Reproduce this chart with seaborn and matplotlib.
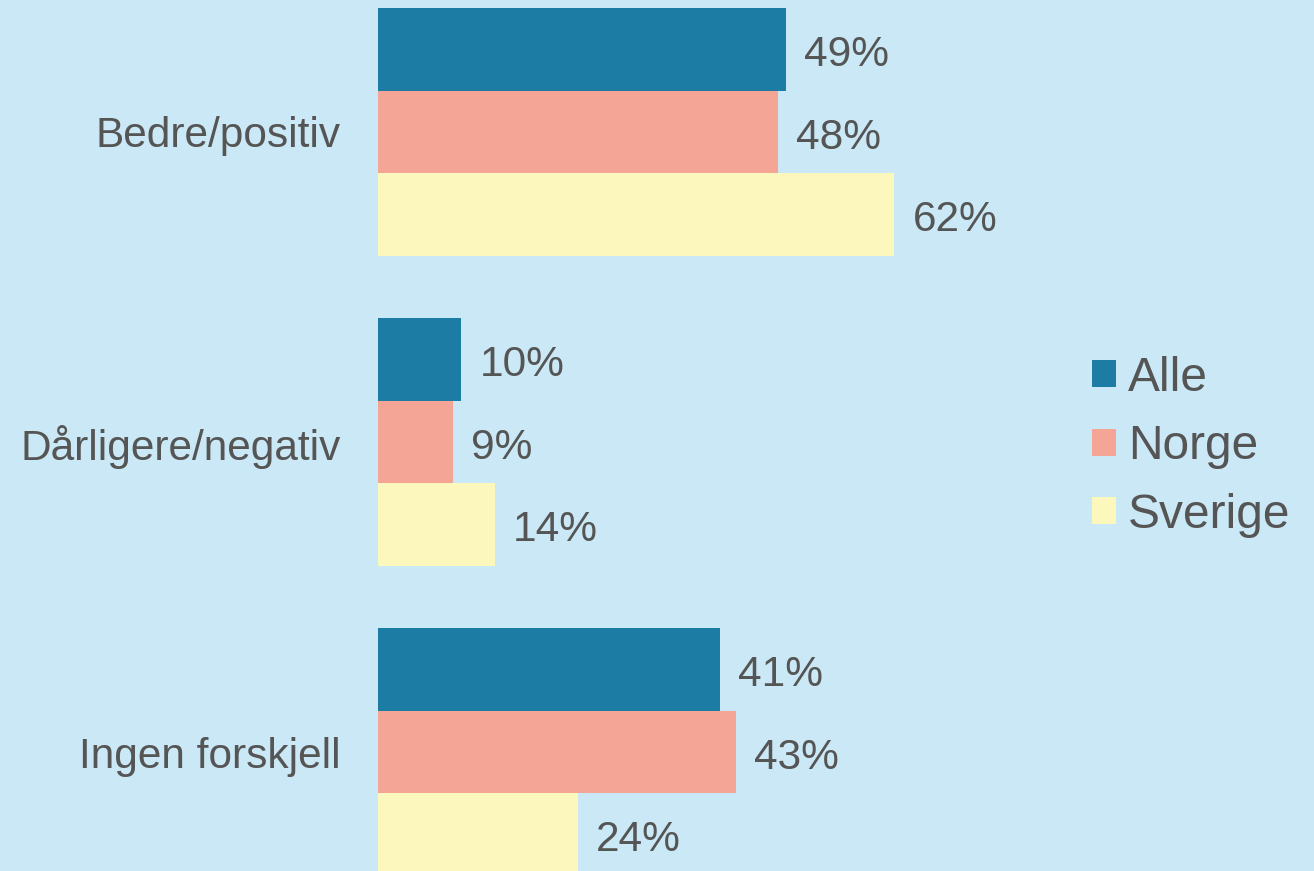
import matplotlib
matplotlib.use("Agg")
import matplotlib.pyplot as plt
import seaborn as sns
import pandas as pd
from matplotlib.patches import Patch

categories = ["Bedre/positiv", "Dårligere/negativ", "Ingen forskjell"]
series = ["Alle", "Norge", "Sverige"]
alle = [49, 10, 41]
norge = [48, 9, 43]
sverige = [62, 14, 24]
colors = ["#1D7CA3", "#F5A595", "#FCF8BD"]
bg = "#CAE8F5"
txt = "#555555"

rows = []
for s, vals in zip(series, [alle, norge, sverige]):
    for c, v in zip(categories, vals):
        rows.append({"cat": c, "serie": s, "val": v})
df = pd.DataFrame(rows)

sns.set_theme(style="white")
plt.rcParams['font.family'] = ['Liberation Sans', 'DejaVu Sans']

fig = plt.figure(figsize=(13.14, 8.71), dpi=100, facecolor=bg)
ax = fig.add_axes([378/1314, 0, (1060-378)/1314, 1])
ax.set_facecolor(bg)
sns.barplot(data=df, y="cat", x="val", hue="serie", order=categories,
            hue_order=series, palette=colors, orient="h", width=0.8,
            saturation=1, ax=ax, legend=False, linewidth=0)

ax.set_xlim(0, 682/8.33)
ax.set_ylim((871-132)/310, -132/310)
for sp in ax.spines.values():
    sp.set_visible(False)
ax.set_xticks([])
ax.set_xlabel("")
ax.set_ylabel("")
ax.tick_params(axis="y", length=0, pad=27, labelsize=30.5, labelcolor=txt)

for cont in ax.containers:
    labs = ax.bar_label(cont, labels=[f"{int(round(v))}%" for v in cont.datavalues],
                        padding=12, fontsize=30.5, color=txt)
    for t in labs:
        t.xyann = (13, -4)

handles = [Patch(facecolor=c, edgecolor="none", label=s) for c, s in zip(colors, series)]
fig.legend(handles=handles, loc="center left", bbox_to_anchor=(1049/1314, 0.487),
           frameon=False, fontsize=34.5, labelcolor=txt, handlelength=0.5,
           handleheight=0.5, handletextpad=0.25, labelspacing=0.49)

fig.savefig("out.png", dpi=100, facecolor=bg)
